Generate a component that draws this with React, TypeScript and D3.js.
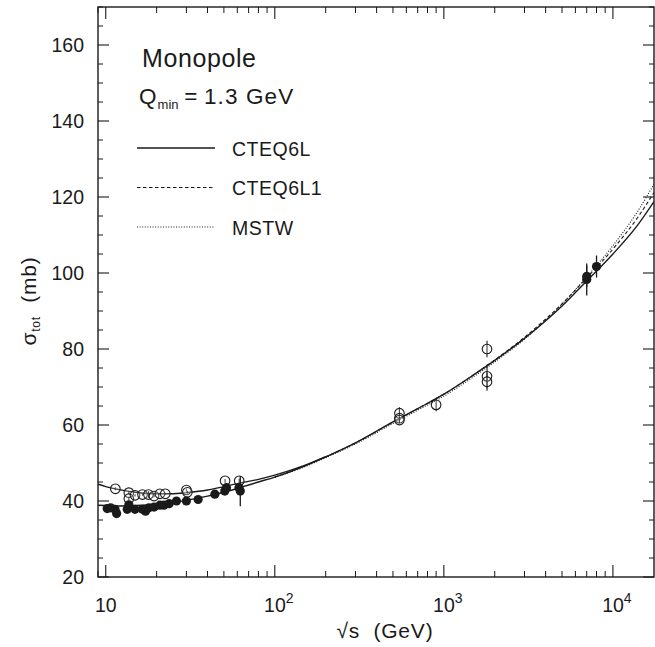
import React from 'react';
import * as d3 from 'd3';

// sqrt(s) in GeV, sigma_tot in mb
const curveEnergies = [100, 150, 200, 300, 500, 700, 1000, 1500, 2000, 3000, 5000, 7000, 10000, 14000, 17500];
const cteq6l = [46.3, 49.2, 51.6, 55.3, 60.8, 64.3, 68.1, 73.2, 77.0, 82.8, 91.3, 97.9, 105.0, 112.6, 118.8];
const cteq6l1 = [46.3, 49.2, 51.6, 55.3, 60.8, 64.3, 68.1, 73.2, 77.1, 83.1, 91.9, 98.7, 106.3, 114.6, 121.2];
const mstw = [46.2, 49.0, 51.4, 55.0, 60.4, 63.9, 67.6, 72.7, 76.6, 82.6, 91.8, 99.0, 107.2, 116.2, 123.4];

// low-energy branches of the solid curve
const lowEnergies = [9, 10, 12, 15, 20, 25, 30, 40, 50, 62, 80, 100];
const ppbarLow = [44.4, 43.8, 43.0, 42.3, 41.9, 41.9, 42.2, 42.9, 43.8, 44.7, 45.7, 46.8];
const ppLow = [38.9, 38.8, 38.7, 38.8, 39.1, 39.6, 40.2, 41.3, 42.3, 43.5, 45.0, 46.3];

// open circles: p-pbar data [sqrt(s), sigma, error]
const openPoints: [number, number, number][] = [
  [11.4, 43.2, 0.4], [13.7, 42.2, 0.4], [13.7, 40.6, 0.5], [14.9, 41.5, 0.3],
  [16.5, 41.7, 0.3], [17.9, 41.7, 0.9], [19.3, 41.3, 0.3], [20.9, 41.9, 0.3],
  [22.5, 41.9, 0.3], [30.0, 42.9, 0.4], [30.4, 42.3, 0.3], [50.8, 45.3, 0.5],
  [61.6, 45.3, 0.6], [546, 63.1, 1.6], [546, 61.8, 1.0], [546, 61.3, 0.9],
  [900, 65.3, 1.7], [1800, 80.0, 2.2], [1800, 72.8, 3.1], [1800, 71.4, 2.4],
];

// filled circles: p-p data [sqrt(s), sigma, error]
const filledPoints: [number, number, number][] = [
  [10.2, 38.0, 0.3], [10.7, 38.2, 0.3], [11.35, 37.8, 0.3], [11.6, 36.7, 0.6],
  [13.4, 37.8, 0.3], [13.7, 39.0, 0.4], [14.9, 37.8, 0.3], [16.5, 37.8, 0.4],
  [17.2, 37.3, 0.6], [18.0, 38.2, 0.3], [19.3, 38.4, 0.3], [20.9, 38.9, 0.3],
  [22.1, 38.9, 0.3], [23.7, 39.3, 0.3], [26.2, 40.0, 0.3], [30.0, 40.0, 0.3],
  [35.2, 40.4, 0.3], [44.2, 41.8, 0.4], [50.6, 42.6, 0.5], [51.8, 43.5, 0.5],
  [61.4, 43.5, 0.6], [62.5, 42.6, 4.0], [7000, 98.3, 4.2], [7000, 99.1, 2.8],
  [8000, 101.7, 2.9],
];

const yMajor = [20, 40, 60, 80, 100, 120, 140, 160];
const xDecades = [10, 100, 1000, 10000];
const xLabelExp = ['', '2', '3', '4'];

const legendItems = [
  { label: 'CTEQ6L', dash: 'none', width: 1.3 },
  { label: 'CTEQ6L1', dash: '3.5,2.5', width: 1.1 },
  { label: 'MSTW', dash: '1,1.6', width: 1.1 },
];

const W = 655;
const H = 647;
const left = 98;
const right = 654;
const top = 7;
const bottom = 577;
const ink = '#1a1a1a';
const font = '"Liberation Sans", Arial, sans-serif';
const sp = '\u00a0';
const thin = '\u2009';

const App: React.FC = () => {
  const x = d3.scaleLog().domain([9, 17500]).range([left, right]);
  const y = d3.scaleLinear().domain([20, 170]).range([bottom, top]);

  const line = d3.line<[number, number]>()
    .x(d => x(d[0]))
    .y(d => y(d[1]))
    .curve(d3.curveMonotoneX);

  const zip = (xs: number[], ys: number[]) => xs.map((v, i) => [v, ys[i]] as [number, number]);

  const solidMain = zip(lowEnergies, ppLow).concat(zip(curveEnergies, cteq6l).slice(1));
  const solidUpper = zip(lowEnergies, ppbarLow).concat([[150, 49.35], [200, 51.65]]);

  // minor ticks
  const xMinor: number[] = [];
  [10, 100, 1000, 10000].forEach(dec => {
    for (let k = 2; k <= 9; k++) {
      const v = dec * k;
      if (v < 17500) xMinor.push(v);
    }
  });
  xMinor.push(9);
  const yMinor = d3.range(20, 171, 5).filter(v => v % 20 !== 0);

  return (
    <svg width={W} height={H} style={{ position: 'absolute', left: 0, top: 0, background: '#fff' }}
      fontFamily={font}>
      <defs>
        <clipPath id="plot">
          <rect x={left} y={top} width={right - left} height={bottom - top} />
        </clipPath>
      </defs>

      {/* frame */}
      <rect x={left} y={top} width={right - left} height={bottom - top} fill="none" stroke={ink} strokeWidth={1.4} />

      {/* x ticks, bottom and top */}
      {xDecades.map(v => (
        <g key={'xM' + v}>
          <line x1={x(v)} x2={x(v)} y1={bottom} y2={bottom - 12} stroke={ink} strokeWidth={1.1} />
          <line x1={x(v)} x2={x(v)} y1={top} y2={top + 12} stroke={ink} strokeWidth={1.1} />
        </g>
      ))}
      {xMinor.map(v => (
        <g key={'xm' + v}>
          <line x1={x(v)} x2={x(v)} y1={bottom} y2={bottom - 6} stroke={ink} strokeWidth={1} />
          <line x1={x(v)} x2={x(v)} y1={top} y2={top + 6} stroke={ink} strokeWidth={1} />
        </g>
      ))}

      {/* y ticks, left and right */}
      {yMajor.map(v => (
        <g key={'yM' + v}>
          <line x1={left} x2={left + 11} y1={y(v)} y2={y(v)} stroke={ink} strokeWidth={1.1} />
          <line x1={right} x2={right - 11} y1={y(v)} y2={y(v)} stroke={ink} strokeWidth={1.1} />
        </g>
      ))}
      {yMinor.map(v => (
        <g key={'ym' + v}>
          <line x1={left} x2={left + 5} y1={y(v)} y2={y(v)} stroke={ink} strokeWidth={1} />
          <line x1={right} x2={right - 5} y1={y(v)} y2={y(v)} stroke={ink} strokeWidth={1} />
        </g>
      ))}

      {/* tick labels */}
      {yMajor.map(v => (
        <text key={'yl' + v} x={84} y={y(v) + 7} textAnchor="end" fontSize={19.5} fill={ink}>{v}</text>
      ))}
      {xDecades.map((v, i) => (
        <text key={'xl' + v} x={x(v) + (xLabelExp[i] ? 4 : 0)} y={612} textAnchor="middle" fontSize={19.5} fill={ink}>
          10{xLabelExp[i] && <tspan fontSize={14} dy={-9}>{xLabelExp[i]}</tspan>}
        </text>
      ))}

      {/* axis titles */}
      <text x={385} y={638} textAnchor="middle" fontSize={21} letterSpacing={0.8} fill={ink}>{`√s${sp}${sp}(GeV)`}</text>
      <text transform="translate(36,301) rotate(-90)" textAnchor="middle" fontSize={21} letterSpacing={0.8} fill={ink}>
        σ<tspan fontSize={12} dy={4}>tot</tspan><tspan dy={-4}>{`${sp}${sp}(mb)`}</tspan>
      </text>

      {/* curves */}
      <g clipPath="url(#plot)" fill="none">
        <path d={line(zip(curveEnergies, mstw)) || ''} stroke={ink} strokeWidth={1.1} strokeDasharray="1,1.6" />
        <path d={line(zip(curveEnergies, cteq6l1)) || ''} stroke={ink} strokeWidth={1.1} strokeDasharray="3.5,2.5" />
        <path d={line(solidMain) || ''} stroke={ink} strokeWidth={1.4} />
        <path d={line(solidUpper) || ''} stroke={ink} strokeWidth={1.4} />
      </g>

      {/* data */}
      <g clipPath="url(#plot)">
        {openPoints.map((d, i) => (
          <g key={'o' + i}>
            <line x1={x(d[0])} x2={x(d[0])} y1={y(d[1] - d[2])} y2={y(d[1] + d[2])} stroke={ink} strokeWidth={1.1} />
            <circle cx={x(d[0])} cy={y(d[1])} r={4.8} fill="#fff" fillOpacity={0.2} stroke={ink} strokeWidth={1.1} />
          </g>
        ))}
        {filledPoints.map((d, i) => (
          <g key={'f' + i}>
            <line x1={x(d[0])} x2={x(d[0])} y1={y(d[1] - d[2])} y2={y(d[1] + d[2])} stroke={ink} strokeWidth={1.3} />
            <circle cx={x(d[0])} cy={y(d[1])} r={4.6} fill={ink} />
          </g>
        ))}
      </g>

      {/* labels and legend */}
      <text x={142} y={67} fontSize={25} letterSpacing={0.6} fill={ink}>Monopole</text>
      <text x={139} y={104} fontSize={22.5} letterSpacing={1.1} fill={ink}>
        Q<tspan fontSize={13} dy={5} letterSpacing={0}>min</tspan>
        <tspan dy={-5}>{`${thin}=${thin}1.3${sp}GeV`}</tspan>
      </text>
      {legendItems.map((item, i) => (
        <g key={item.label} transform={`translate(0, ${148 + i * 39.5})`}>
          <line x1={137} x2={215} y1={0} y2={0} stroke={ink} strokeWidth={item.width}
            strokeDasharray={item.dash === 'none' ? undefined : item.dash} />
          <text x={232} y={7.5} fontSize={19.5} letterSpacing={0.5} fill={ink}>{item.label}</text>
        </g>
      ))}
    </svg>
  );
};

export default App;
